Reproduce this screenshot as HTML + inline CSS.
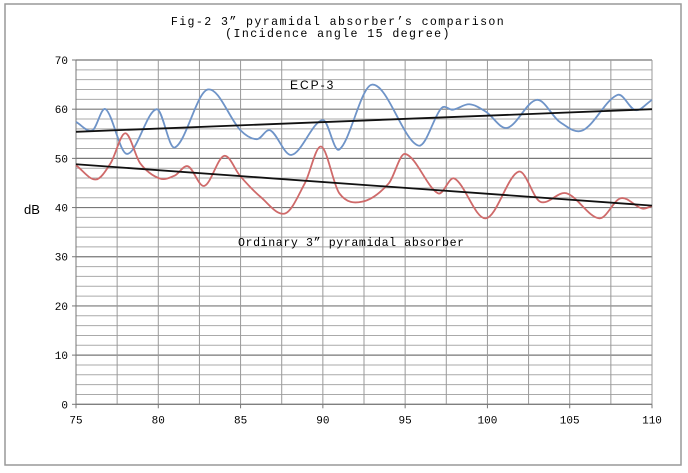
<!DOCTYPE html>
<html><head><meta charset="utf-8"><style>
html,body{margin:0;padding:0;background:#fff;}
svg{display:block;}
text{font-family:"Liberation Mono","Noto Sans CJK JP",monospace;}
</style></head><body>
<svg id="chart" width="688" height="473" xmlns="http://www.w3.org/2000/svg">
<rect x="5" y="4" width="676" height="461" fill="#fff" stroke="#999" stroke-width="1.5"/>
<text x="338" y="25" font-size="11.6" text-anchor="middle" fill="#000" style="letter-spacing:1.4px">Fig-2  3” pyramidal absorber’s  comparison</text>
<text x="338" y="37" font-size="11.6" text-anchor="middle" fill="#000" style="letter-spacing:1.4px">(Incidence angle 15 degree)</text>
<g id="grid"></g>
<g id="axes"></g>
<g id="series"></g>
<text x="24" y="214" font-size="13" style="font-family:'Liberation Sans',sans-serif" fill="#000">dB</text>
<text x="290" y="89" font-size="12" style="font-family:'Liberation Sans',sans-serif;letter-spacing:2px" fill="#000">ECP-3</text>
<text x="238" y="246" font-size="11.6" fill="#000" style="letter-spacing:0.6px">Ordinary  3” pyramidal absorber</text>
</svg>
<script>
const xTicks=[75,80,85,90,95,100,105,110];
const yTicks=[0,10,20,30,40,50,60,70];
const ecpX=[75,76,76.8,78.1,79.9,81,83,85,86,86.8,88.1,90,91,93,95.8,97.2,97.9,98.9,99.9,101.2,103,104.4,105.8,107.9,109,110];
const ecpY=[57.4,55.7,60,50.9,60,52.2,64,55.7,53.9,55.7,50.7,57.8,51.8,65,52.6,60.2,59.9,61,59.5,56.2,61.9,57.4,55.7,62.9,59.8,61.9];
const ordX=[75,76.2,77.1,78,78.9,80.1,81,81.8,82.8,84,85,86.2,87.7,88.9,89.9,91,92.4,94,95,97,98,99.9,101.9,103.2,104.8,106.8,108.1,109.4,110];
const ordY=[48.6,45.7,49,55.1,49,45.9,46.5,48.4,44.4,50.5,46.3,42.2,38.8,44.9,52.4,42.9,41.2,44.9,50.9,42.9,45.9,37.8,47.3,41.2,42.9,37.8,41.9,39.8,40.3];
const trendX=[75,110];
const ecpTrend=[55.4,60];
const ordTrend=[48.8,40.4];
const X0=76,X1=652,Y0=404.3,Y1=60;
const xs=v=>X0+(v-75)/35*(X1-X0);
const ys=v=>Y0-v/70*(Y0-Y1);
const NS="http://www.w3.org/2000/svg";
function mk(tag,attrs,parent){const e=document.createElementNS(NS,tag);for(const k in attrs)e.setAttribute(k,attrs[k]);parent.appendChild(e);return e;}
const grid=document.getElementById('grid'),axes=document.getElementById('axes'),series=document.getElementById('series');
for(let v=0;v<=70;v+=2){const l=mk('line',{x1:X0,x2:X1,y1:ys(v),y2:ys(v),stroke:v%10===0?'#777':'#aaa','stroke-width':v%10===0?1.2:1},grid);

}
for(let v=75;v<=110;v+=2.5){const l=mk('line',{x1:xs(v),x2:xs(v),y1:Y1,y2:Y0,stroke:'#999','stroke-width':1},grid);

}
const ax=mk('line',{x1:X0,x2:X0,y1:Y1,y2:Y0,stroke:'#777'},axes);


const bx=mk('line',{x1:X0,x2:X1,y1:Y0,y2:Y0,stroke:'#777'},axes);


yTicks.forEach(v=>{const t=mk('text',{x:X0-8,y:ys(v)+4,'font-size':11,'text-anchor':'end',fill:'#000'},axes);t.textContent=v;


mk('line',{x1:X0-4,x2:X0,y1:ys(v),y2:ys(v),stroke:'#777'},axes);});
xTicks.forEach(v=>{const t=mk('text',{x:xs(v),y:Y0+19,'font-size':11,'text-anchor':'middle',fill:'#000'},axes);t.textContent=v;


mk('line',{x1:xs(v),x2:xs(v),y1:Y0,y2:Y0+4,stroke:'#777'},axes);});
function smooth(X,Y){const p=X.map((x,i)=>[xs(x),ys(Y[i])]);const n=p.length;
const m=p.map((q,i)=>{const a=p[Math.max(0,i-1)],c=p[Math.min(n-1,i+1)];return (c[1]-a[1])/(c[0]-a[0]);});
let d='M'+p[0][0]+','+p[0][1];
for(let i=0;i<n-1;i++){const b=p[i],c=p[i+1],dx=(c[0]-b[0])/3;
d+=` C${b[0]+dx},${b[1]+m[i]*dx} ${c[0]-dx},${c[1]-m[i+1]*dx} ${c[0]},${c[1]}`;}return d;}
const e1=mk('path',{d:smooth(ecpX,ecpY),fill:'none',stroke:'#6f94c8','stroke-width':1.8},series);


const o1=mk('path',{d:smooth(ordX,ordY),fill:'none',stroke:'#cf6a6a','stroke-width':1.8},series);


const t1=mk('line',{x1:xs(trendX[0]),x2:xs(trendX[1]),y1:ys(ecpTrend[0]),y2:ys(ecpTrend[1]),stroke:'#111','stroke-width':1.8},series);


const t2=mk('line',{x1:xs(trendX[0]),x2:xs(trendX[1]),y1:ys(ordTrend[0]),y2:ys(ordTrend[1]),stroke:'#111','stroke-width':1.8},series);


</script>
</body></html>
